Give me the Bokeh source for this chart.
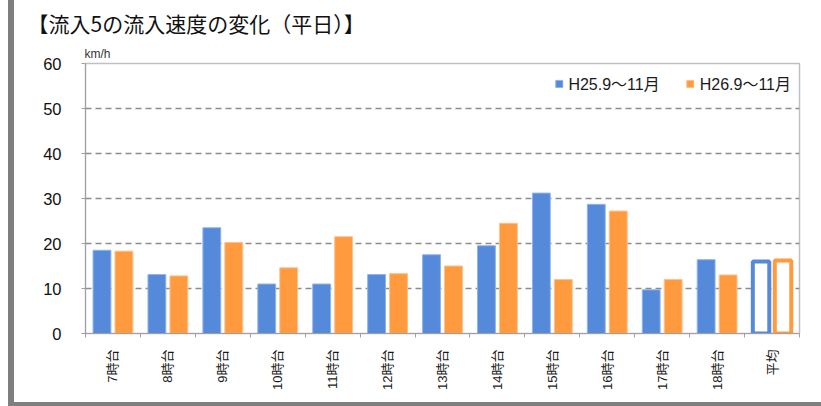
import math
from bokeh.plotting import figure
from bokeh.models import ColumnDataSource, FixedTicker, Range1d, Legend, LegendItem, Title
from bokeh.embed import file_html
from bokeh.resources import INLINE

# ---- data ----
categories = ["7時台", "8時台", "9時台", "10時台", "11時台", "12時台", "13時台",
              "14時台", "15時台", "16時台", "17時台", "18時台", "平均"]
h25 = [18.5, 13.1, 23.5, 11.0, 11.0, 13.1, 17.5, 19.5, 31.2, 28.7, 9.7, 16.4, 16.0]
h26 = [18.3, 12.8, 20.2, 14.6, 21.5, 13.3, 15.0, 24.5, 12.0, 27.2, 12.0, 13.0, 16.2]
series_names = ["H25.9～11月", "H26.9～11月"]
y_ticks = [0, 10, 20, 30, 40, 50, 60]
title_text = "【流入5の流入速度の変化（平日）】"
unit_text = "km/h"
avg_label = "平均"

BLUE = "#5589da"
ORANGE = "#ff9a3e"
FONT = "Liberation Sans, Noto Sans CJK JP"

n = len(categories)
pos = list(range(1, n + 1))
off = 0.2

solid_idx = [i for i, c in enumerate(categories) if c != avg_label]
avg_idx = [i for i, c in enumerate(categories) if c == avg_label]

src_b = ColumnDataSource(dict(x=[pos[i] - off for i in solid_idx], top=[h25[i] for i in solid_idx]))
src_o = ColumnDataSource(dict(x=[pos[i] + off for i in solid_idx], top=[h26[i] for i in solid_idx]))
src_ab = ColumnDataSource(dict(x=[pos[i] - off for i in avg_idx], top=[h25[i] for i in avg_idx]))
src_ao = ColumnDataSource(dict(x=[pos[i] + off for i in avg_idx], top=[h26[i] for i in avg_idx]))

p = figure(width=807, height=402, output_backend="svg", toolbar_location=None,
           title=None,
           x_range=Range1d(0.5, n + 0.5), y_range=Range1d(y_ticks[0], y_ticks[-1]),
           min_border_left=71, min_border_right=22, min_border_top=63, min_border_bottom=69)
p.styles = {"margin-left": "14px",
            "box-shadow": "-6px 0 0 0 #7f7f7f, 0 4px 0 0 #7f7f7f, -6px 4px 0 0 #7f7f7f"}

rb = p.vbar(x="x", top="top", width=0.325, source=src_b, fill_color=BLUE, line_color="#8fb4ea", line_width=1)
ro = p.vbar(x="x", top="top", width=0.325, source=src_o, fill_color=ORANGE, line_color="#ffc08a", line_width=1)
p.vbar(x="x", top="top", width=0.30, source=src_ab, fill_color="white", line_color=BLUE, line_width=4)
p.vbar(x="x", top="top", width=0.30, source=src_ao, fill_color="white", line_color=ORANGE, line_width=4)

# axes
xa = p.xaxis[0]
xa.ticker = FixedTicker(ticks=pos, minor_ticks=[0.5 + i for i in range(n + 1)])
xa.major_label_overrides = {pp: c for pp, c in zip(pos, categories)}
xa.major_label_orientation = math.pi / 2
xa.major_tick_out = 0
xa.major_tick_in = 0
xa.minor_tick_out = 4
xa.minor_tick_in = 0
xa.minor_tick_line_color = "#a0a0a0"
xa.axis_line_color = "#a0a0a0"
xa.major_label_standoff = 12
xa.major_label_text_font = FONT
xa.major_label_text_font_size = "13px"
xa.major_label_text_color = "#1a1a1a"

ya = p.yaxis[0]
ya.ticker = FixedTicker(ticks=y_ticks)
ya.axis_line_color = "#a0a0a0"
ya.major_tick_line_color = "#a0a0a0"
ya.major_tick_out = 4
ya.major_tick_in = 0
ya.minor_tick_out = 0
ya.minor_tick_in = 0
ya.major_label_standoff = 20
ya.major_label_text_font = FONT
ya.major_label_text_font_size = "16.5px"
ya.major_label_text_color = "#111111"

p.xgrid.visible = False
p.ygrid.ticker = FixedTicker(ticks=y_ticks[1:-1])
p.ygrid.grid_line_color = "#8c8c8c"
p.ygrid.grid_line_dash = "6 4"
p.ygrid.grid_line_width = 1.3
p.outline_line_color = "#c0c0c0"
p.outline_line_width = 1.5
p.background_fill_color = "white"
p.border_fill_color = "white"

# legend
legend = Legend(items=[LegendItem(label=series_names[0], renderers=[rb]),
                       LegendItem(label=series_names[1], renderers=[ro])],
                orientation="horizontal", location="top_right")
legend.glyph_width = 9
legend.glyph_height = 9
legend.label_standoff = 5
legend.spacing = 26
legend.padding = 4
legend.margin = 8
legend.border_line_color = None
legend.background_fill_alpha = 0
legend.label_text_font = FONT
legend.label_text_font_size = "16px"
legend.label_text_color = "#1a1a1a"
p.add_layout(legend)

# unit label (nearest the frame) and chart title
p.add_layout(Title(text=unit_text, align="left", offset=-1, standoff=6,
                   text_font=FONT, text_font_size="12px", text_font_style="normal",
                   text_color="#333333"), "above")
p.add_layout(Title(text=title_text, align="left", offset=-58, standoff=8,
                   text_font="Noto Sans CJK JP", text_font_size="21px", text_font_style="normal",
                   text_color="#111111"), "above")

open("out.html", "w").write(file_html(p, INLINE))
